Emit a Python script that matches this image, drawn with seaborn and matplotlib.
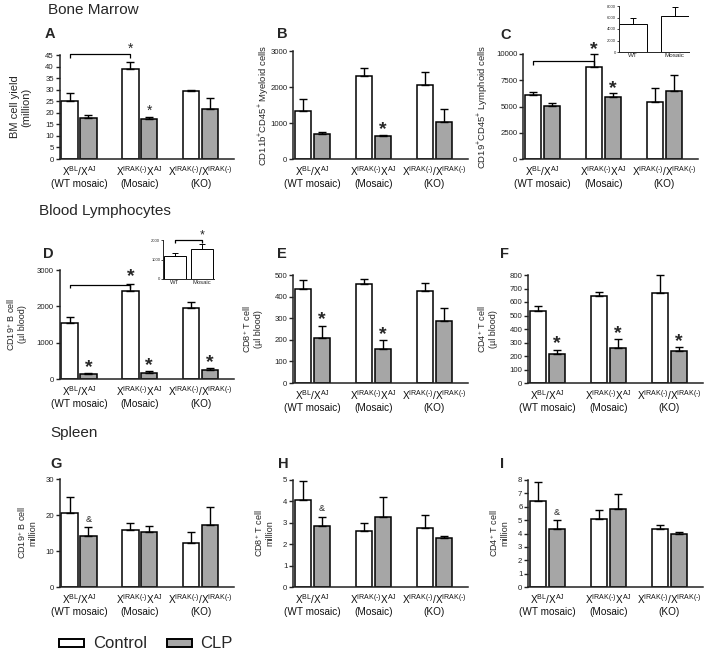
import numpy as np
import pandas as pd
import matplotlib
matplotlib.use('Agg')
import matplotlib.pyplot as plt
import seaborn as sns
from matplotlib.patches import Patch

sns.set_theme(style='ticks')
plt.rcParams['font.family'] = ['Liberation Sans', 'DejaVu Sans']
plt.rcParams['mathtext.fontset'] = 'custom'
plt.rcParams['mathtext.rm'] = 'Liberation Sans'
plt.rcParams['mathtext.it'] = 'Liberation Sans:italic'
plt.rcParams['mathtext.bf'] = 'Liberation Sans:bold'
plt.rcParams['mathtext.default'] = 'regular'

# ---------------- data ----------------
groups = ['WT', 'Mosaic', 'KO']
group_labels = ['X$^{BL}$/X$^{AJ}$\n(WT mosaic)',
                'X$^{IRAK(\\text{-})}$X$^{AJ}$\n(Mosaic)',
                'X$^{IRAK(\\text{-})}$/X$^{IRAK(\\text{-})}$\n(KO)']
treatments = ['Control', 'CLP']
colors = {'Control': 'white', 'CLP': '#a6a6a6'}

A_ctrl = [25.0, 38.8, 29.4]; A_ctrl_err = [3.6, 3.0, 0.4]
A_clp = [17.8, 17.2, 21.8]; A_clp_err = [1.2, 0.9, 4.5]

B_ctrl = [1320, 2300, 2055]; B_ctrl_err = [360, 220, 360]
B_clp = [690, 630, 1040]; B_clp_err = [65, 45, 360]

C_ctrl = [6100, 8800, 5475]; C_ctrl_err = [320, 1170, 1265]
C_clp = [5060, 5890, 6520]; C_clp_err = [320, 440, 1490]

D_ctrl = [1550, 2430, 1960]; D_ctrl_err = [165, 175, 150]
D_clp = [135, 155, 245]; D_clp_err = [25, 60, 45]

E_ctrl = [434, 457, 428]; E_ctrl_err = [43, 23, 37]
E_clp = [208, 158, 285]; E_clp_err = [58, 40, 64]

F_ctrl = [537, 645, 670]; F_ctrl_err = [37, 32, 130]
F_clp = [215, 262, 237]; F_clp_err = [33, 63, 31]

G_ctrl = [20.6, 15.7, 12.2]; G_ctrl_err = [4.4, 2.1, 3.0]
G_clp = [14.1, 15.3, 17.1]; G_clp_err = [2.5, 1.7, 5.1]

H_ctrl = [4.08, 2.62, 2.78]; H_ctrl_err = [0.87, 0.36, 0.59]
H_clp = [2.86, 3.29, 2.28]; H_clp_err = [0.43, 0.90, 0.11]

I_ctrl = [6.45, 5.07, 4.35]; I_ctrl_err = [1.42, 0.70, 0.30]
I_clp = [4.35, 5.82, 3.95]; I_clp_err = [0.63, 1.15, 0.13]

inset_groups = ['WT', 'Mosaic']
Cin_vals = [4830, 6320]; Cin_err = [1150, 1440]
Din_vals = [1180, 1540]; Din_err = [136, 257]

# ---------------- figure ----------------
W, H = 713, 653
fig = plt.figure(figsize=(W / 100, H / 100), dpi=100)
fig.patch.set_facecolor('white')


def add_ax(l, t, r, b):
    return fig.add_axes([l / W, 1 - b / H, (r - l) / W, (b - t) / H])


def bar_x(ax, h, i):
    bar = ax.containers[h][i]
    return bar.get_x() + bar.get_width() / 2


def star(ax, h, i, y, fs=14, weight='bold', s='*', frac=0.38):
    ax.annotate(s, xy=(bar_x(ax, h, i), y), xytext=(0, -frac * fs),
                textcoords='offset points', ha='center', va='baseline',
                fontsize=fs, fontweight=weight, annotation_clip=False)


def bracket(ax, h0, i0, h1, i1, y, ylow):
    x0, x1 = bar_x(ax, h0, i0), bar_x(ax, h1, i1)
    ax.plot([x0, x0, x1, x1], [ylow, y, y, ylow], color='black', lw=0.9,
            clip_on=False, solid_capstyle='butt')


def panel(rect, ctrl, ctrl_err, clp, clp_err, ylim, yticks, ylabel, lab_fs, lab_xc):
    l, t, r, b = rect
    ax = add_ax(*rect)
    df = pd.DataFrame({'group': groups * 2,
                       'treatment': ['Control'] * 3 + ['CLP'] * 3,
                       'value': list(ctrl) + list(clp)})
    sns.barplot(data=df, x='group', y='value', hue='treatment', order=groups,
                hue_order=treatments, palette=colors, saturation=1,
                edgecolor='black', linewidth=1.1, width=0.62, gap=0.12,
                errorbar=None, legend=False, ax=ax)
    for cont, errs in zip(ax.containers, [ctrl_err, clp_err]):
        for bar, e in zip(cont, errs):
            x = bar.get_x() + bar.get_width() / 2
            y = bar.get_height()
            ax.errorbar([x], [y], yerr=[[0], [e]], fmt='none', ecolor='black',
                        elinewidth=1.0, capsize=2.8, capthick=1.0, clip_on=False)
    ax.set_xlim(-0.32, 2.55)
    ax.set_ylim(*ylim)
    ax.set_yticks(yticks)
    ax.set_xticks(range(3))
    ax.set_xticklabels(group_labels)
    ax.set_xlabel('')
    ax.set_ylabel(ylabel, fontsize=lab_fs, linespacing=1.15)
    ax.yaxis.label.set_va('center')
    ax.yaxis.set_label_coords((lab_xc - l) / (r - l), 0.5)
    ax.tick_params(axis='y', length=3, width=1.0, labelsize=5.6, pad=1,
                   colors='#222222')
    ax.tick_params(axis='x', length=0, labelsize=7.2, pad=3.5, colors='#111111')
    sns.despine(ax=ax)
    for s in ['left', 'bottom']:
        ax.spines[s].set_linewidth(1.1)
        ax.spines[s].set_color('#222222')
    ax.set_facecolor('none')
    return ax


def inset(rect, vals, errs, ylim, yticks, width, xlim, xfs, yfs):
    ax = add_ax(*rect)
    sns.barplot(x=inset_groups, y=vals, color='white', saturation=1,
                edgecolor='black', linewidth=0.7, width=width, errorbar=None, ax=ax)
    for bar, e in zip(ax.containers[0], errs):
        x = bar.get_x() + bar.get_width() / 2
        ax.errorbar([x], [bar.get_height()], yerr=[[0], [e]], fmt='none',
                    ecolor='black', elinewidth=0.7, capsize=2.0, capthick=0.7,
                    clip_on=False)
    ax.set_xlim(*xlim)
    ax.set_ylim(*ylim)
    ax.set_yticks(yticks)
    ax.tick_params(axis='y', length=1.5, width=0.6, labelsize=yfs, pad=0.5)
    ax.tick_params(axis='x', length=0, labelsize=xfs, pad=1)
    sns.despine(ax=ax)
    for s in ['left', 'bottom']:
        ax.spines[s].set_linewidth(0.7)
    ax.set_facecolor('none')
    return ax


# Row 1 : Bone marrow
axA = panel((59.5, 55, 234, 159), A_ctrl, A_ctrl_err, A_clp, A_clp_err,
            (0, 45), range(0, 46, 5), 'BM cell yield\n(million)', 8, 21)
bracket(axA, 0, 0, 0, 1, 45.6, 43.8)
star(axA, 0, 1, 48.3, fs=10, weight='normal')
star(axA, 1, 1, 21.3, fs=10, weight='normal')

axB = panel((293, 51, 468, 159), B_ctrl, B_ctrl_err, B_clp, B_clp_err,
            (0, 3000), [0, 1000, 2000, 3000],
            'CD11b$^{+}$CD45$^{+}$ Myeloid cells', 6.8, 264)
star(axB, 1, 1, 890)

axC = panel((523, 54, 698, 159), C_ctrl, C_ctrl_err, C_clp, C_clp_err,
            (0, 10000), [0, 2500, 5000, 7500, 10000],
            'CD19$^{+}$CD45$^{+}$ Lymphoid cells', 6.8, 483)
bracket(axC, 0, 0, 0, 1, 9370, 8950)
star(axC, 0, 1, 10700)
star(axC, 1, 1, 6960)

inset((619, 6, 689, 52), Cin_vals, Cin_err, (0, 8000),
      [0, 2000, 4000, 6000, 8000], 0.68, (-0.34, 1.34), 4.5, 3)

# Row 2 : Blood lymphocytes
axD = panel((59.5, 270, 234, 379), D_ctrl, D_ctrl_err, D_clp, D_clp_err,
            (0, 3000), [0, 1000, 2000, 3000],
            'CD19$^{+}$ B cell\n(µl blood)', 6.5, 16)
bracket(axD, 0, 0, 0, 1, 2590, 2495)
star(axD, 0, 1, 2890)
star(axD, 1, 0, 400)
star(axD, 1, 1, 460)
star(axD, 1, 2, 540)

axDi = inset((163, 240, 214, 279), Din_vals, Din_err, (0, 2000),
             [0, 1000, 2000], 0.8, (-0.42, 1.42), 4.2, 3)
bracket(axDi, 0, 0, 0, 1, 2000, 1860)
star(axDi, 0, 1, 2340, fs=9, weight='normal')

axE = panel((293, 275, 468, 383), E_ctrl, E_ctrl_err, E_clp, E_clp_err,
            (0, 500), range(0, 501, 100),
            'CD8$^{+}$ T cell\n(µl blood)', 6.5, 252)
star(axE, 1, 0, 308)
star(axE, 1, 1, 238)

axF = panel((528, 275, 703, 383), F_ctrl, F_ctrl_err, F_clp, F_clp_err,
            (0, 800), range(0, 801, 100),
            'CD4$^{+}$ T cell\n(µl blood)', 6.5, 487)
star(axF, 1, 0, 312)
star(axF, 1, 1, 388)
star(axF, 1, 2, 330)

# Row 3 : Spleen
axG = panel((59.5, 479, 234, 587), G_ctrl, G_ctrl_err, G_clp, G_clp_err,
            (0, 30), [0, 10, 20, 30], 'CD19$^{+}$ B cell\nmillion', 6.5, 27)
star(axG, 1, 0, 18.9, fs=6.5, weight='normal', s='&', frac=0.36)

axH = panel((293, 480, 468, 587), H_ctrl, H_ctrl_err, H_clp, H_clp_err,
            (0, 5), range(0, 6), 'CD8$^{+}$ T cell\nmillion', 6.5, 264)
star(axH, 1, 0, 3.68, fs=6.5, weight='normal', s='&', frac=0.36)

axI = panel((528, 480, 703, 587), I_ctrl, I_ctrl_err, I_clp, I_clp_err,
            (0, 8), range(0, 9), 'CD4$^{+}$ T cell\nmillion', 6.5, 499)
star(axI, 1, 0, 5.65, fs=6.5, weight='normal', s='&', frac=0.36)

# Section titles
for txt, x, y in [('Bone Marrow', 48, 14), ('Blood Lymphocytes', 39, 215),
                  ('Spleen', 50, 437)]:
    fig.text(x / W, 1 - y / H, txt, fontsize=11, va='baseline', ha='left')

# Panel letters
for txt, x, y in [('A', 45, 38), ('B', 277, 38), ('C', 500, 39),
                  ('D', 43, 258), ('E', 277, 258), ('F', 500, 258),
                  ('G', 50, 468), ('H', 278, 468), ('I', 500, 468)]:
    fig.text(x / W, 1 - y / H, txt, fontsize=10.5, fontweight='bold',
             va='baseline', ha='left')

# Legend
handles = [Patch(facecolor=colors[t], edgecolor='black', linewidth=1.4, label=t)
           for t in treatments]
fig.legend(handles=handles, loc='center', bbox_to_anchor=(146 / W, 1 - 644 / H),
           ncol=2, frameon=False, fontsize=12, handlelength=1.5,
           handleheight=0.36, columnspacing=1.2, handletextpad=0.5)

fig.savefig('out.png', dpi=100, facecolor='white')
